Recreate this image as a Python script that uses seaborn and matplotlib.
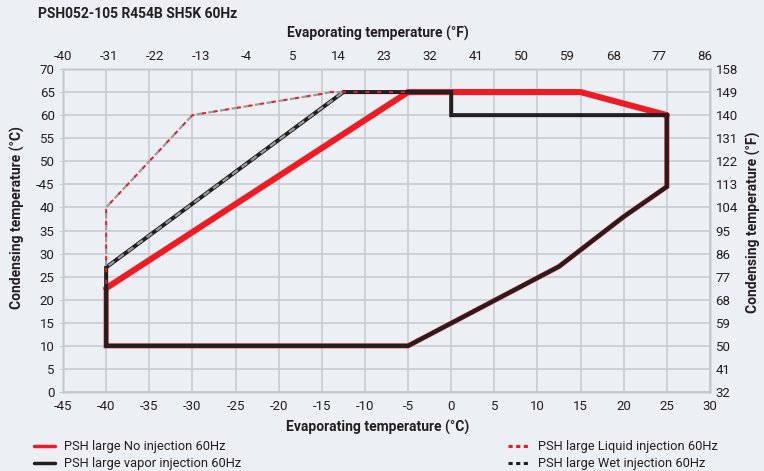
import matplotlib
matplotlib.use('Agg')
import pandas as pd
import matplotlib.pyplot as plt
from matplotlib.lines import Line2D
import seaborn as sns

# Данные (°C)
# Без впрыска: верхняя граница (толстая) и остальная часть (под чёрной линией)
no_inj_top_x = [-40, -5, 15, 25]
no_inj_top_y = [22.5, 65, 65, 60]
no_inj_x = [-40, -40, -5, 12.5, 20, 25, 25]
no_inj_y = [22.5, 10, 10, 27.2, 38, 44.5, 60]

vapor_x = [-40, -40, -12.5, 0, 0, 25, 25, 20, 12.5, -5, -40]
vapor_y = [10, 27, 65, 65, 60, 60, 44.5, 38, 27.2, 10, 10]

liquid_x = [-40, -40, -30, -15, -14, -5]
liquid_y = [22.5, 40, 60, 64.6, 65, 65]

wet_x = [-12.5, -14, -15, -30, -40, -40, -12.5]
wet_y = [65, 65, 64.6, 60, 40, 27, 65]

x_ticks_c = list(range(-45, 31, 5))
y_ticks_c = list(range(0, 71, 5))
y_labels_c = ['-45' if v == 45 else str(v) for v in y_ticks_c]
x_ticks_f = list(range(-40, 87, 9))
y_ticks_f = list(range(32, 159, 9))

bg = '#eceff3'
txt = '#231f20'
grid_c = '#c9ccd1'

sns.set_style('white')
plt.rcParams['font.family'] = ['Roboto', 'DejaVu Sans']
plt.rcParams['lines.scale_dashes'] = False
plt.rcParams['text.color'] = txt
plt.rcParams['xtick.color'] = txt
plt.rcParams['ytick.color'] = txt

fig = plt.figure(figsize=(7.64, 4.71), dpi=100, facecolor=bg)
ax = fig.add_axes([63 / 764, 1 - 392 / 471, 647 / 764, 323 / 471])
ax.set_facecolor(bg)


def draw(xs, ys, **kw):
    df = pd.DataFrame({'x': xs, 'y': ys})
    sns.lineplot(data=df, x='x', y='y', sort=False, estimator=None, ax=ax, **kw)


draw(no_inj_top_x, no_inj_top_y, color='#ed1c24', lw=4.4, solid_joinstyle='miter', zorder=3)
draw(no_inj_x, no_inj_y, color='#ed1c24', lw=3.6, solid_joinstyle='miter', zorder=3)
draw(vapor_x, vapor_y, color='#231f20', lw=2.9, solid_joinstyle='miter', zorder=4)
draw(wet_x, wet_y, color='#9b9b9b', lw=1.6, linestyle=(0, (5, 3.5)), zorder=5)
draw(liquid_x, liquid_y, color='#ed1c24', lw=1.4, linestyle=(5.5, (3, 5.5)), zorder=6)

ax.set_xlim(-45, 30)
ax.set_ylim(0, 70)
ax.set_xticks(x_ticks_c)
ax.set_xticklabels([str(v) for v in x_ticks_c], fontsize=9.5)
ax.set_yticks(y_ticks_c)
ax.set_yticklabels(y_labels_c, fontsize=9.5)
ax.grid(True, color=grid_c, lw=1.2, zorder=0)
ax.set_axisbelow(True)
ax.tick_params(axis='x', length=0, pad=6)
ax.tick_params(axis='y', length=3, color=grid_c, pad=3)
ax.set_xlabel('')
ax.set_ylabel('')
for s in ax.spines.values():
    s.set_color('#c4c7cc')
    s.set_linewidth(1.0)

# Шкалы в °F
axr = ax.twinx()
axr.set_ylim(32, 158)
axr.set_yticks(y_ticks_f)
axr.set_yticklabels([str(v) for v in y_ticks_f], fontsize=9.5)
axr.tick_params(axis='y', length=0, pad=4)
axt = ax.twiny()
axt.set_xlim(-40, 87)
axt.set_xticks(x_ticks_f)
axt.set_xticklabels([str(v) for v in x_ticks_f], fontsize=9.5)
axt.tick_params(axis='x', length=0, pad=4)
for a in (axr, axt):
    for s in a.spines.values():
        s.set_color('#c4c7cc')
        s.set_linewidth(1.0)

fig.text(38 / 764, 1 - 14 / 471, 'PSH052-105 R454B SH5K 60Hz', fontsize=10,
         weight='bold', va='center', ha='left')
fig.text(378 / 764, 1 - 33 / 471, 'Evaporating temperature (°F)', fontsize=10,
         weight='bold', va='center', ha='center')
fig.text(378 / 764, 1 - 427 / 471, 'Evaporating temperature (°C)', fontsize=10,
         weight='bold', va='center', ha='center')
fig.text(17 / 764, 1 - 218 / 471, 'Condensing temperature (°C)', fontsize=10,
         weight='bold', va='center', ha='center', rotation=90)
fig.text(753 / 764, 1 - 222 / 471, 'Condensing temperature (°F)', fontsize=10,
         weight='bold', va='center', ha='center', rotation=90)

left_h = [Line2D([], [], color='#ed1c24', lw=2.5),
          Line2D([], [], color='#231f20', lw=2.5)]
right_h = [Line2D([], [], color='#ed1c24', lw=2.2, linestyle=(0, (3, 2.5))),
           Line2D([], [], color='#231f20', lw=2.2, linestyle=(0, (3, 2.5)))]
leg_kw = dict(frameon=False, fontsize=9.3, handlelength=1.6, handletextpad=0.7,
              labelspacing=0.3, borderaxespad=0)
fig.legend(left_h, ['PSH large No injection 60Hz', 'PSH large vapor injection 60Hz'],
           loc='upper left', bbox_to_anchor=(29 / 764, 1 - 435 / 471), **leg_kw)
fig.legend(right_h, ['PSH large Liquid injection 60Hz', 'PSH large Wet injection 60Hz'],
           loc='upper left', bbox_to_anchor=(503 / 764, 1 - 435 / 471), **leg_kw)

fig.savefig('out.png', dpi=100, facecolor=bg)
